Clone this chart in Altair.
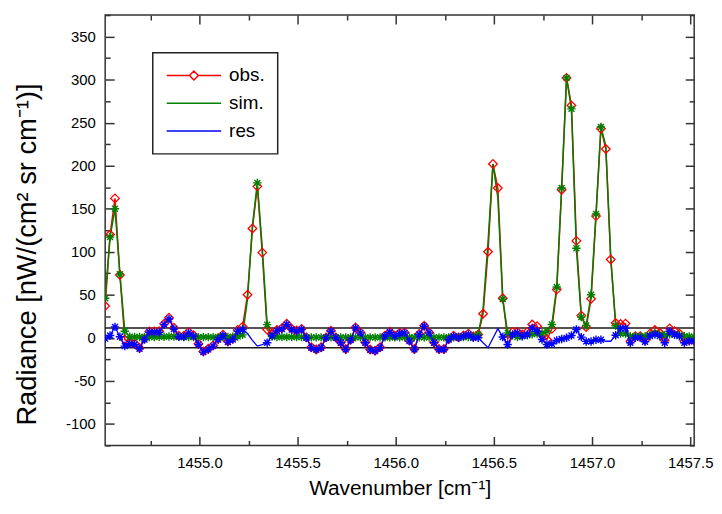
import altair as alt
import pandas as pd

# ---------------- data ----------------
wavenumber = [
    1454.520, 1454.545, 1454.570, 1454.595, 1454.620, 1454.645, 1454.670, 1454.695, 1454.720, 1454.745,
    1454.770, 1454.795, 1454.820, 1454.845, 1454.870, 1454.895, 1454.920, 1454.945, 1454.970, 1454.995,
    1455.020, 1455.045, 1455.070, 1455.095, 1455.120, 1455.145, 1455.170, 1455.195, 1455.220, 1455.245,
    1455.270, 1455.295, 1455.320, 1455.345, 1455.370, 1455.395, 1455.420, 1455.445, 1455.470, 1455.495,
    1455.520, 1455.545, 1455.570, 1455.595, 1455.620, 1455.645, 1455.670, 1455.695, 1455.720, 1455.745,
    1455.770, 1455.795, 1455.820, 1455.845, 1455.870, 1455.895, 1455.920, 1455.945, 1455.970, 1455.995,
    1456.020, 1456.045, 1456.070, 1456.095, 1456.120, 1456.145, 1456.170, 1456.195, 1456.220, 1456.245,
    1456.270, 1456.295, 1456.320, 1456.345, 1456.370, 1456.395, 1456.420, 1456.445, 1456.470, 1456.495,
    1456.520, 1456.545, 1456.570, 1456.595, 1456.620, 1456.645, 1456.670, 1456.695, 1456.720, 1456.745,
    1456.770, 1456.795, 1456.820, 1456.845, 1456.870, 1456.895, 1456.920, 1456.945, 1456.970, 1456.995,
    1457.020, 1457.045, 1457.070, 1457.095, 1457.120, 1457.145, 1457.170, 1457.195, 1457.220, 1457.245,
    1457.270, 1457.295, 1457.320, 1457.345, 1457.370, 1457.395, 1457.420, 1457.445, 1457.470, 1457.495,
    1457.520,
]

obs = [
    37, 120, 162, 73, -2, -5.7, -6.7, -11.7, -0.9, 7.5,
    7.5, 7.7, 16.5, 23.4, 11.8, 2.4, 2.2, 6.8, 2.9, -6.9,
    -15.8, -12.7, -8.8, -1.1, 3.7, -4.0, -0.7, 9.2, 13, 50,
    127, 176, 99, 9.6, 4.2, 9, 11.3, 16.4, 10.6, 8.5,
    10.4, 0.5, -11, -13.5, -11, 0.5, 8.2, 0.5, -5.3, -13,
    -2.2, 12.1, 6.3, -5.3, -13.5, -14.9, -11, 2.5, 7, 2.5,
    5.5, 6.3, -3.3, -13, 4.4, 14, 6.3, -5.3, -13, -13,
    -1.4, 2.5, 0.5, 2.8, 4.9, 1.5, 3.8, 28, 100, 202,
    174, 46, -1.2, 6.8, 6.8, 3.9, 6.8, 15.4, 13.5, 3,
    -2, 10.4, 56, 172, 302, 270, 112.6, 25.8, 12.4, 45.3,
    141.4, 243, 219.4, 91, 17.2, 16, 16.5, -3.8, 2, 2,
    -2.6, 4.9, 9, 5.9, -2.8, 11, 7.8, 4.9, -3.8, -2.5,
    -3,
]

sim = [
    46, 117, 150, 74, 7.6, 1.2, 1.0, 1.0, 1.0, 1.0,
    1.0, 1.2, 1.2, 1.5, 1.5, 1.2, 1.0, 1.0, 1.0, 0.8,
    0.8, 0.8, 0.8, 0.8, 1.0, 1.0, 1.2, 1.5, 3.4, 45,
    130, 180, 105, 15.3, 1.5, 1.0, 1.0, 1.0, 1.0, 0.8,
    0.8, 0.5, 0.5, 0.5, 0.5, 0.5, 0.5, 0.5, 0.5, 0.5,
    0.5, 0.5, 0.5, 0.5, 0.5, 0.5, 0.5, 0.5, 0.5, 0.5,
    0.5, 0.5, 0.5, 0.5, 0.5, 0.5, 0.5, 0.5, 0.5, 0.5,
    0.5, 0.5, 0.5, 0.8, 1.0, 1.5, 3.8, 34, 111, 202,
    163, 45, 5.8, 3, 1, 2, 3, 4, 5, 5,
    7.7, 15.4, 59, 174, 302, 266, 104, 24, 14.3, 50,
    144, 245, 223, 95, 14, 5, 5, 2, 2, 2,
    2, 3, 5, 4, 3, 4, 4, 3, 2, 1.5,
    1,
]

res = [
    -1, 2.7, 12.7, 1.2, -9.6, -6.9, -7.7, -12.7, -1.9, 6.5,
    6.5, 6.5, 15.3, 21.9, 10.3, 1.2, 1.2, 5.8, 1.9, -7.7,
    -16.6, -13.5, -9.6, -1.9, 2.7, -5.0, -1.9, 7.7, 9.6, 5,
    -3, -9.6, -8, -5.8, 2.7, 8, 10.3, 15.4, 9.6, 7.7,
    9.6, 0, -11.5, -14, -11.5, 0, 7.7, 0, -5.8, -13.5,
    -2.7, 11.6, 5.8, -5.8, -14, -15.4, -11.5, 2, 6.5, 2,
    5, 5.8, -3.8, -13.5, 3.9, 13.5, 5.8, -5.8, -13.5, -13.5,
    -1.9, 2, 0, 2, 3.9, 0, 0, -5.8, -11.5, -0.5,
    10.6, 1, -7.7, 3.8, 5.8, 1.9, 3.8, 11.5, 7.7, -1.9,
    -7.7, -6.9, -3, -1.4, 0, 2.7, 9.6, 0.8, -4.2, -4.2,
    -2.3, -2.3, -4, -4, 3, 11, 11, -5.8, 0, 0,
    -4.6, 1.9, 4, 1.9, -5.8, 7.7, 3.8, 1.9, -5.8, -4,
    -4,
]

# points drawn as plain line (no asterisk) in the reference
res_no_marker = [29, 30, 31, 32, 77, 78, 79, 80, 102, 103]
sim_no_marker = [29, 30, 32, 77, 78, 79, 80, 102, 103]

band_limits = [11.5, -11.5]

series_names = ["obs.", "sim.", "res"]
series_colors = ["#FF0000", "#008000", "#0000FF"]

x_major = [1455.0, 1455.5, 1456.0, 1456.5, 1457.0, 1457.5]
x_minor = [1454.75, 1455.25, 1455.75, 1456.25, 1456.75, 1457.25]
y_major = [-100, -50, 0, 50, 100, 150, 200, 250, 300, 350]
y_minor = [-125, -75, -25, 25, 75, 125, 175, 225, 275, 325, 375]
x_domain = [1454.52, 1457.52]
y_domain = [-125, 375]

# ---------------- tables ----------------
df = pd.DataFrame({"wn": wavenumber, "obs": obs, "sim": sim, "res": res})
df["res_mark"] = [i not in res_no_marker for i in range(len(df))]
df["sim_mark"] = [i not in sim_no_marker for i in range(len(df))]
band_df = pd.DataFrame({"v": band_limits})
legend_df = pd.DataFrame({"series": series_names,
                          "wn": [wavenumber[0]] * 3, "v": [0, 0, 0]})

# ---------------- styling ----------------
W, H = 594, 434
FONT = "Liberation Sans"
FRAME = "#333333"
ASTERISK = "M-1,0L1,0M0,-1L0,1M-0.7,-0.7L0.7,0.7M-0.7,0.7L0.7,-0.7"
LEG_OBS = "M-3.05,0L-0.5,0M0.5,0L3.05,0M-0.5,0L0,-0.5L0.5,0L0,0.5Z"
LEG_LINE = "M-3.05,0L3.05,0"

xs = alt.Scale(domain=x_domain, nice=False, zero=False)
ys = alt.Scale(domain=y_domain, nice=False, zero=False)

x_major_test = "abs(datum.value*2 - round(datum.value*2)) < 0.001"
y_major_test = "abs(datum.value % 50) < 0.001"
x_tick_size = {"condition": {"test": x_major_test, "value": 9}, "value": 5}
y_tick_size = {"condition": {"test": y_major_test, "value": 9}, "value": 5}

x_main_axis = alt.Axis(
    orient="bottom", values=x_major, format=".1f", ticks=False, grid=False,
    domain=False, labelFont=FONT, labelFontSize=15, labelColor="#000000",
    labelPadding=10, labelFlush=False,
    title="Wavenumber [cm⁻¹]", titleFont=FONT, titleFontSize=21,
    titleFontWeight="normal", titleColor="#000000",
    titleY=44, titleBaseline="middle",
)
y_main_axis = alt.Axis(
    orient="left", values=y_major, labelExpr="datum.value + ''", ticks=False,
    grid=False, domain=False, labelFont=FONT, labelFontSize=15,
    labelColor="#000000", labelPadding=10, labelFlush=False,
    title="Radiance [nW/(cm² sr cm⁻¹)]", titleFont=FONT, titleFontSize=27.5,
    titleFontWeight="normal", titleColor="#000000",
    titleX=-78, titleY=241, titleAngle=-90, titleBaseline="middle",
    titleAlign="center",
)


def tick_axis(orient, offset, values, size):
    return alt.Axis(
        orient=orient, offset=offset, values=values, labels=False,
        domain=False, grid=False, ticks=True, tickColor=FRAME, tickWidth=1.5,
        tickSize=size, title=None,
    )


def X(axis=None):
    return alt.X("wn:Q", scale=xs, axis=axis)


# ---------------- layers ----------------
band = alt.Chart(band_df).mark_rule(color="#1a1a1a", strokeWidth=1.5).encode(
    y=alt.Y("v:Q", scale=ys, axis=y_main_axis)
)

obs_line = alt.Chart(df).mark_line(color=series_colors[0], strokeWidth=1.5, clip=True).encode(
    x=X(x_main_axis), y=alt.Y("obs:Q", scale=ys, axis=None)
)
sim_line = alt.Chart(df).mark_line(color=series_colors[1], strokeWidth=1.5, clip=True).encode(
    x=X(), y=alt.Y("sim:Q", scale=ys, axis=None)
)
obs_pts = alt.Chart(df).mark_point(
    shape="diamond", filled=False, color=series_colors[0], size=75,
    strokeWidth=1.3, opacity=1, clip=True
).encode(x=X(), y=alt.Y("obs:Q", scale=ys, axis=None))
sim_pts = alt.Chart(df).transform_filter("datum.sim_mark").mark_point(
    shape=ASTERISK, filled=False, color=series_colors[1], size=72,
    strokeWidth=1.4, opacity=1, clip=True
).encode(x=X(), y=alt.Y("sim:Q", scale=ys, axis=None))
res_line = alt.Chart(df).mark_line(color=series_colors[2], strokeWidth=1.3, clip=True).encode(
    x=X(), y=alt.Y("res:Q", scale=ys, axis=None)
)
res_pts = alt.Chart(df).transform_filter("datum.res_mark").mark_point(
    shape=ASTERISK, filled=False, color=series_colors[2], size=72,
    strokeWidth=1.4, opacity=1, clip=True
).encode(x=X(), y=alt.Y("res:Q", scale=ys, axis=None))

legend_def = alt.Legend(
    orient="none", legendX=48, legendY=38, title=None, padding=13,
    strokeColor="#222222", fillColor="#FFFFFF",
    labelFont=FONT, labelFontSize=19, labelColor="#000000",
    labelOffset=25.5, symbolOffset=18.5, rowPadding=8,
    symbolStrokeWidth=1.5, symbolSize=324,
)
legend_layer = alt.Chart(legend_df).mark_point(
    filled=False, opacity=0, size=324, strokeWidth=1.5
).encode(
    x=X(), y=alt.Y("v:Q", scale=ys, axis=None),
    color=alt.Color("series:N", scale=alt.Scale(domain=series_names, range=series_colors),
                    legend=legend_def),
    shape=alt.Shape("series:N", scale=alt.Scale(domain=series_names,
                                                range=[LEG_OBS, LEG_LINE, LEG_LINE]),
                    legend=legend_def),
)

ticks_in_bl = alt.Chart(df).mark_point(opacity=0).encode(
    x=alt.X("wn:Q", scale=xs, axis=tick_axis("top", -H, x_major + x_minor, x_tick_size)),
    y=alt.Y("obs:Q", scale=ys, axis=tick_axis("right", -W, y_major + y_minor, y_tick_size)),
)
ticks_in_tr = alt.Chart(df).mark_point(opacity=0).encode(
    x=alt.X("wn:Q", scale=xs, axis=tick_axis("bottom", -H, x_major + x_minor, x_tick_size)),
    y=alt.Y("obs:Q", scale=ys, axis=tick_axis("left", -W, y_major + y_minor, y_tick_size)),
)

chart = alt.layer(
    band, obs_line, sim_line, obs_pts, sim_pts, res_line, res_pts,
    legend_layer, ticks_in_bl, ticks_in_tr,
).resolve_axis(
    x="independent", y="independent"
).properties(
    width=W, height=H,
    autosize=alt.AutoSizeParams(type="none"),
    padding={"left": 98, "top": 5, "right": 20, "bottom": 59},
    background="#FFFFFF",
).configure_view(
    stroke=FRAME, strokeWidth=1.5
).configure_legend(
    strokeWidth=1.5
)

chart.save("out.html", embed_options={"renderer": "svg", "actions": False})
